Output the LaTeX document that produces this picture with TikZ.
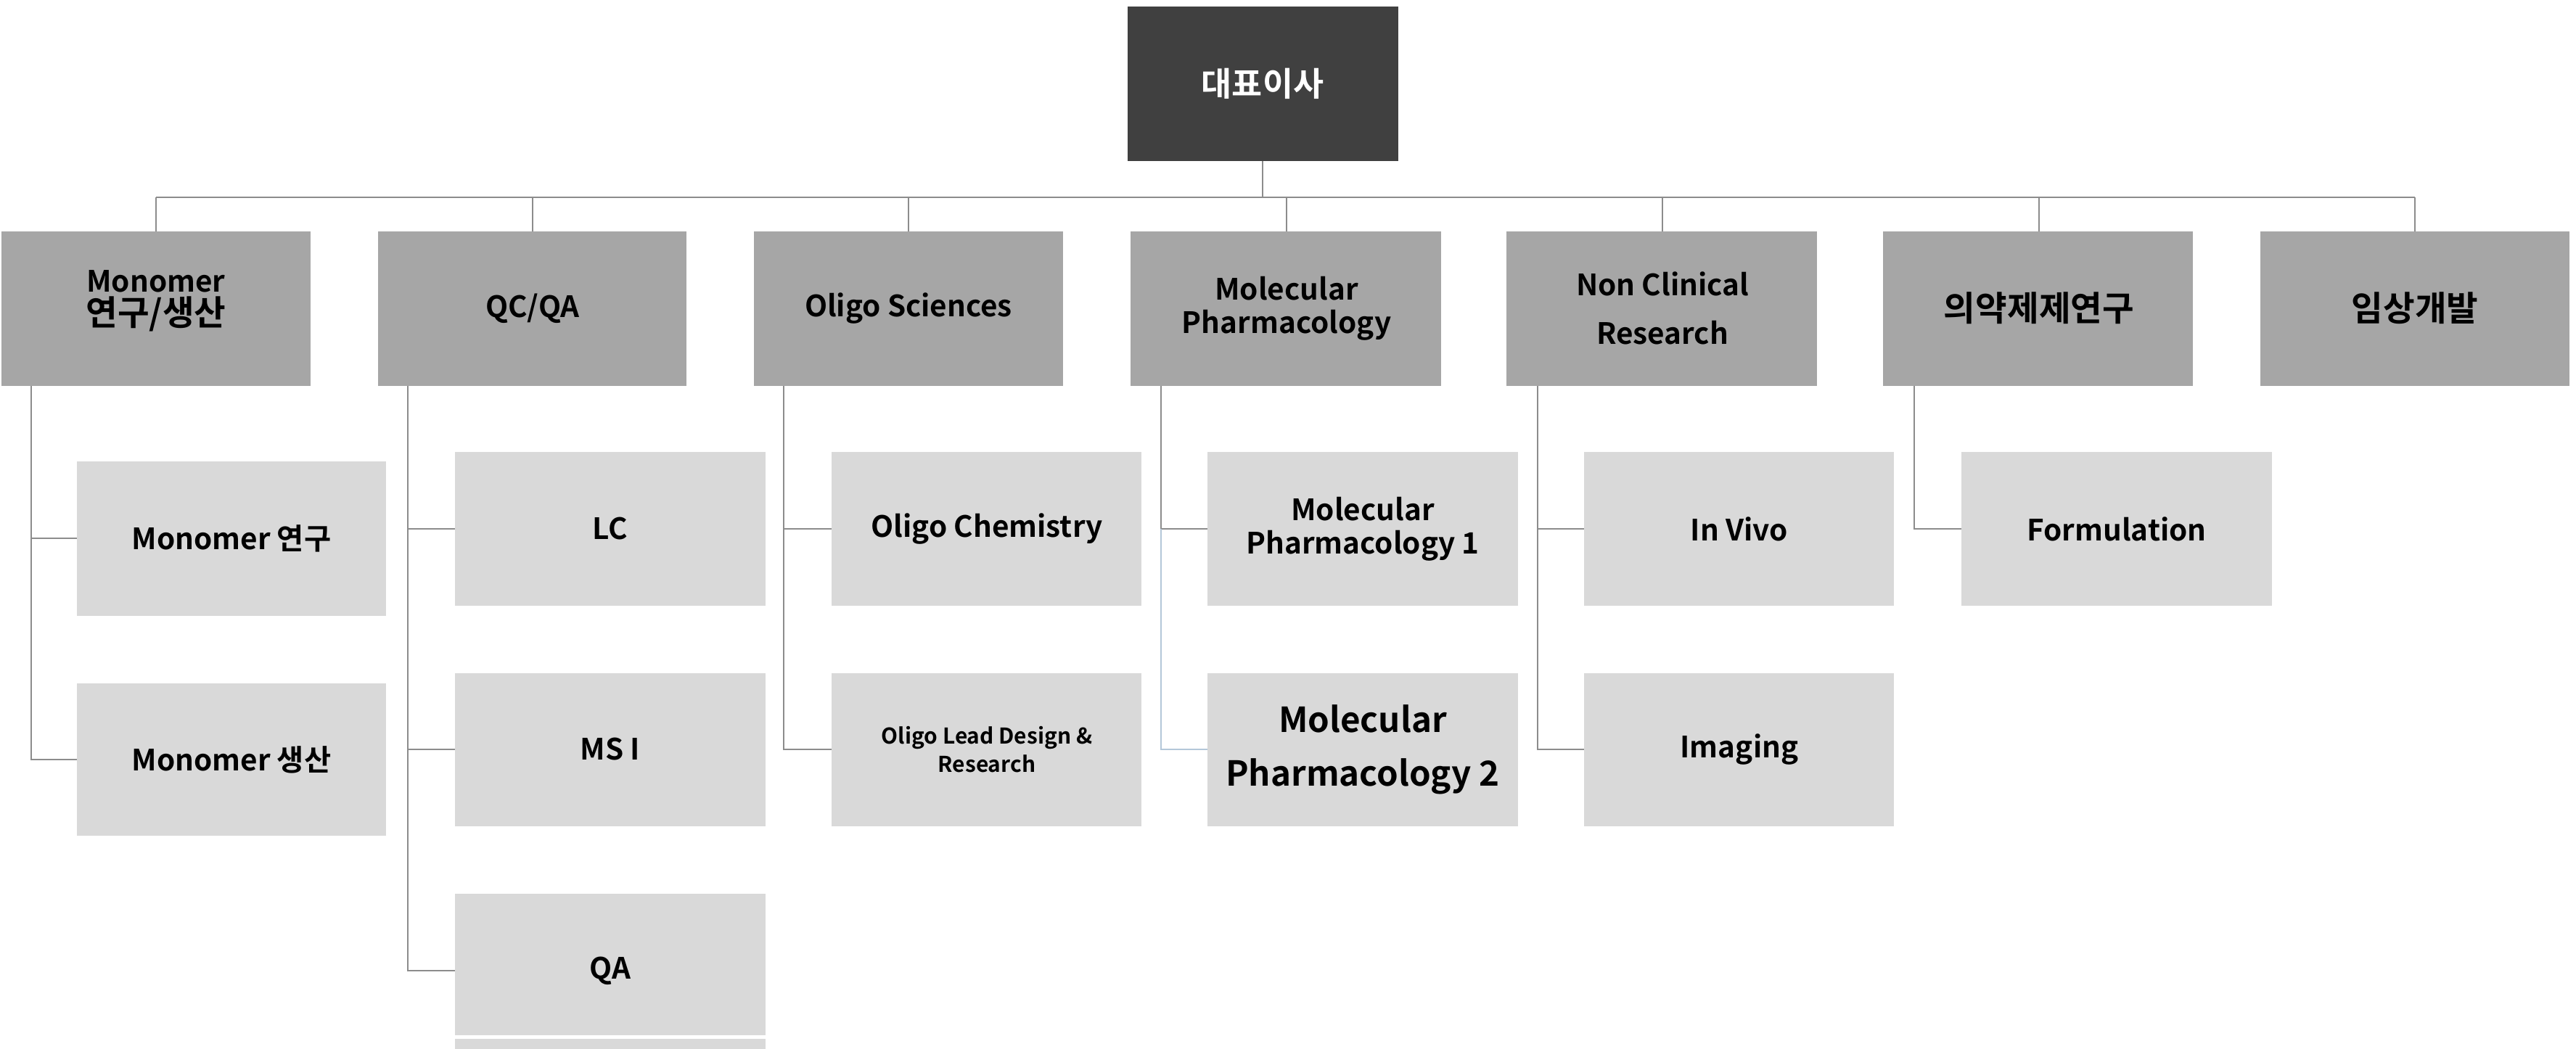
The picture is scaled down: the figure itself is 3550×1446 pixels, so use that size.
\documentclass[tikz,border=0pt]{standalone}
\usepackage{fontspec}
\setmainfont{Noto Sans CJK KR}[BoldFont={* Bold}]
\definecolor{ceo}{HTML}{404040}
\definecolor{lone}{HTML}{A6A6A6}
\definecolor{ltwo}{HTML}{D9D9D9}
\definecolor{ln}{HTML}{8C8C8C}
\definecolor{lb}{HTML}{B4C7D9}
\begin{document}
\begin{tikzpicture}[x=0.01cm,y=-0.01cm,
  box/.style={anchor=north west,inner sep=0,align=center,font=\bfseries\fontsize{11.5}{15}\selectfont},
  conn/.style={draw=ln,line width=0.5pt}]
\useasboundingbox (0,0) rectangle (3550,1446);
\newcommand{\bx}[6]{\fill[#6] (#2,#3) rectangle (#4,#5); \node[box,anchor=center] (#1) at ({(#2+#4)/2},{(#3+#5)/2}) {};}
% top
\fill[ceo] (1554,9) rectangle (1927,222);
\node[font=\bfseries\fontsize{13}{16}\selectfont,text=white] (ceo) at (1740,115) {대표이사};
\coordinate (ceob) at (1740,222);
\coordinate (bar) at (1740,272);
\draw[conn] (ceob) -- (bar);
\draw[conn] (215,272) -- (3328,272);
% level 1
\foreach \n/\a/\b/\c in {m/2/428/215, q/521/946/734, o/1039/1465/1252, p/1558/1986/1773, n/2076/2504/2291, f/2595/3022/2810, c/3115/3541/3328}{
  \fill[lone] (\a,319) rectangle (\b,532);
  \coordinate (\n) at (\c,425);
  \draw[conn] (\c,272) -- (\c,319);
}
\tikzset{t1/.style={font=\bfseries\fontsize{11.5}{15}\selectfont,align=center}}
\node[t1] at (215,415) {Monomer\\[-2pt]{\fontsize{13.5}{16}\selectfont 연구/생산}};
\node[t1] at (734,425) {QC/QA};
\node[t1] at (1252,425) {Oligo Sciences};
\node[t1] at (1773,425) {Molecular\\[-2pt]Pharmacology};
\node[t1] at (2291,425) {Non Clinical\\[4pt]Research};
\node[t1,font=\bfseries\fontsize{13.5}{16}\selectfont] at (2810,425) {의약제제연구};
\node[t1,font=\bfseries\fontsize{13.5}{16}\selectfont] at (3328,425) {임상개발};
% level 2
\tikzset{t2/.style={font=\bfseries\fontsize{11.5}{15}\selectfont,align=center}}
\foreach \a/\b/\c/\d in {106/532/636/849, 106/532/942/1152,
  627/1055/623/835, 627/1055/928/1139, 627/1055/1232/1427, 627/1055/1432/1460,
  1146/1573/623/835, 1146/1573/928/1139,
  1664/2092/623/835, 1664/2092/928/1139,
  2183/2610/623/835, 2183/2610/928/1139,
  2703/3131/623/835}{
  \fill[ltwo] (\a,\c) rectangle (\b,\d);
}
\node[t2] (m1) at (319,742) {Monomer 연구};
\node[t2] (m2) at (319,1047) {Monomer 생산};
\node[t2] (q1) at (841,729) {LC};
\node[t2] (q2) at (841,1033) {MS I};
\node[t2] (q3) at (841,1338) {QA};
\node[t2] (o1) at (1360,729) {Oligo Chemistry};
\node[t2,font=\bfseries\fontsize{8.5}{11}\selectfont] (o2) at (1360,1033) {Oligo Lead Design \&\\Research};
\node[t2] (p1) at (1878,729) {Molecular\\[-2pt]Pharmacology 1};
\node[t2,font=\bfseries\fontsize{13.5}{17}\selectfont] (p2) at (1878,1033) {Molecular\\[4pt]Pharmacology 2};
\node[t2] (n1) at (2397,729) {In Vivo};
\node[t2] (n2) at (2397,1033) {Imaging};
\node[t2] (f1) at (2917,729) {Formulation};
% connectors
\draw[conn] (43,532) -- (43,1047) -- (106,1047); \draw[conn] (43,742) -- (106,742);
\draw[conn] (562,532) -- (562,1338) -- (627,1338); \draw[conn] (562,729) -- (627,729); \draw[conn] (562,1033) -- (627,1033);
\draw[conn] (1080,532) -- (1080,1033) -- (1146,1033); \draw[conn] (1080,729) -- (1146,729);
\draw[conn] (1600,532) -- (1600,729) -- (1664,729);
\draw[draw=lb,line width=0.5pt] (1600,729) -- (1600,1033) -- (1664,1033);
\draw[conn] (2119,532) -- (2119,1033) -- (2183,1033); \draw[conn] (2119,729) -- (2183,729);
\draw[conn] (2638,532) -- (2638,729) -- (2703,729);
\end{tikzpicture}
\end{document}
